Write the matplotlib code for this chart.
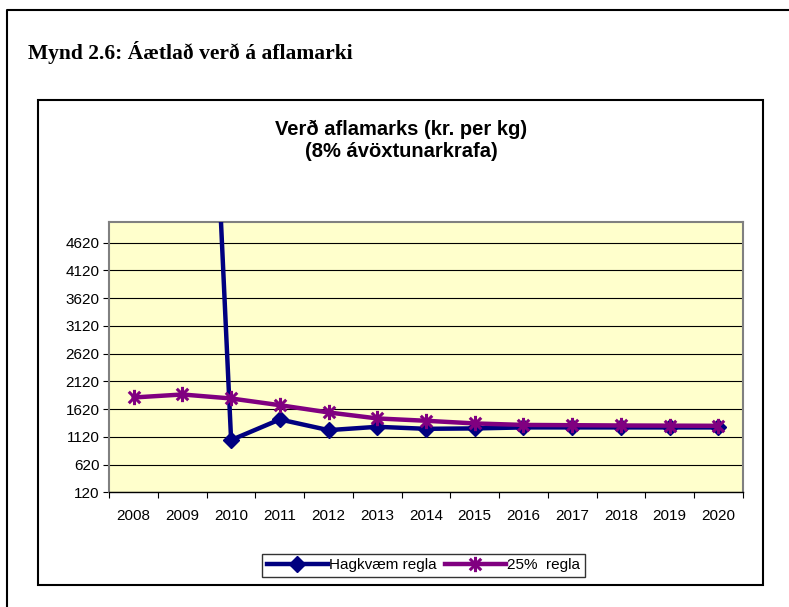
import matplotlib
matplotlib.use('Agg')
import matplotlib.pyplot as plt
from matplotlib.path import Path
from matplotlib.patches import Rectangle
from matplotlib.lines import Line2D
import numpy as np

# gögn lesin af myndinni
ar = ['2008', '2009', '2010', '2011', '2012', '2013', '2014',
      '2015', '2016', '2017', '2018', '2019', '2020']
hagkvaem = [np.nan, 20000, 1062, 1434, 1241, 1301, 1265,
            1272, 1290, 1290, 1290, 1290, 1290]
regla25 = [1830, 1884, 1812, 1691, 1560, 1452, 1410,
           1362, 1335, 1330, 1325, 1322, 1319]
y_ticks = [120, 620, 1120, 1620, 2120, 2620, 3120, 3620, 4120, 4620]

W, H = 789, 607
fig = plt.figure(figsize=(W / 100, H / 100), dpi=100, facecolor='white')

def fx(px):
    return px / W

def fy(py):
    return 1 - py / H

# ytri rammi (aðeins vinstri og efri hlið sjást)
fig.add_artist(Line2D([fx(7), fx(7), fx(789)], [fy(607), fy(10), fy(10)],
                      color='black', lw=1.5, transform=fig.transFigure))
# rammi um grafið
fig.add_artist(Rectangle((fx(38), fy(585)), fx(763) - fx(38), fy(100) - fy(585),
                         fill=False, ec='black', lw=1.5, transform=fig.transFigure))

fig.text(fx(28), fy(52), 'Mynd 2.6: Áætlað verð á aflamarki',
         family='Liberation Serif', weight='bold', fontsize=15.5,
         ha='left', va='center')
fig.text(fx(401), fy(140), 'Verð aflamarks (kr. per kg)\n(8% ávöxtunarkrafa)',
         family='Liberation Sans', weight='bold', fontsize=14.5,
         ha='center', va='center', linespacing=1.2)

ax = fig.add_axes([fx(109.3), fy(492.3), fx(742.7) - fx(109.3), fy(221.7) - fy(492.3)])
ax.set_facecolor('#FFFFCC')

x = np.arange(len(ar))

stjarna = Path([(0, -1), (0, 1), (-0.75, -0.75), (0.75, 0.75), (-0.75, 0.75), (0.75, -0.75)],
               [Path.MOVETO, Path.LINETO, Path.MOVETO, Path.LINETO, Path.MOVETO, Path.LINETO])

ax.plot(x, hagkvaem, color='#000080', lw=3.2, marker='D', ms=8.5,
        mfc='#000080', mec='#000080', label='Hagkvæm regla', zorder=3)
ax.plot(x, regla25, color='#800080', lw=3.2, marker=stjarna, ms=11,
        mec='#800080', mew=2.2, label='25%  regla', zorder=4)

ax.set_xlim(-0.5, len(ar) - 0.5)
ax.set_ylim(120, 5000)
ax.set_yticks(y_ticks)
ax.set_yticklabels([str(v) for v in y_ticks])
ax.yaxis.grid(True, color='black', lw=0.8)
ax.set_axisbelow(True)

ax.set_xticks(np.arange(-0.5, len(ar), 1.0))
ax.set_xticklabels([])
ax.set_xticks(x, minor=True)
ax.set_xticklabels(ar, minor=True)
ax.tick_params(axis='x', which='minor', length=0, pad=12)
ax.tick_params(axis='x', which='major', length=4, color='black', direction='out')
ax.tick_params(axis='y', length=4, direction='out', pad=3)
for lab in ax.get_xticklabels(minor=True) + ax.get_yticklabels():
    lab.set_family('Liberation Sans')
    lab.set_fontsize(11)

for s in ax.spines.values():
    s.set_color('#808080')
    s.set_linewidth(1.5)
ax.spines['bottom'].set_color('black')
ax.spines['bottom'].set_linewidth(1)

leg = ax.legend(loc='center', bbox_to_anchor=(fx(423.5), fy(565.5)),
                bbox_transform=fig.transFigure, ncol=2, frameon=True,
                fancybox=False, edgecolor='black', handlelength=4.0,
                handletextpad=0.1, columnspacing=0.5, borderpad=0.3,
                prop={'family': 'Liberation Sans', 'size': 11})
leg.get_frame().set_linewidth(1)

fig.savefig('out.png', dpi=100, facecolor='white')
